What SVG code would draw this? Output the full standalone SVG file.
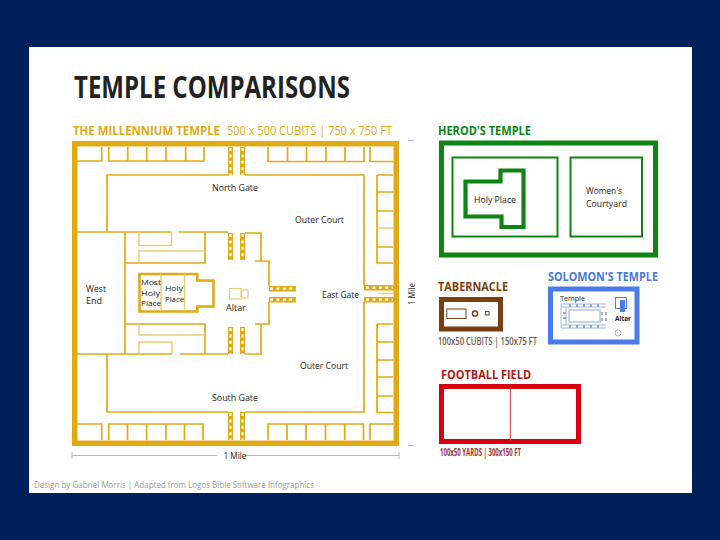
<svg xmlns="http://www.w3.org/2000/svg" width="720" height="540" viewBox="0 0 720 540">
<style>
text{font-family:"Open Sans","Liberation Sans",sans-serif;fill:#1a1a1a}
.lb{font-size:9px}
.tw{font-size:8.5px}
.sm{font-size:8px}
.h{font-weight:700;font-size:12px}
.w{fill:none;stroke:#e0aa14;stroke-width:1.7}
.p{fill:none;stroke:#e9cd78;stroke-width:1.5}
.b{fill:#e0aa14}
.d{fill:none;stroke:#fff;stroke-width:2.2;stroke-dasharray:3 3.4}
.g{fill:none;stroke:#0d8413}
.dim{fill:none;stroke:#b5b5b5;stroke-width:1}
</style>
<rect width="720" height="540" fill="#00205b"/>
<rect x="29" y="47" width="663" height="446" fill="#fff"/>
<g id="title"><text x="74" y="98" font-size="30" font-weight="700" textLength="276" lengthAdjust="spacingAndGlyphs" style="fill:#222">TEMPLE COMPARISONS</text></g>

<g id="millennium-temple">
<text class="h" x="73" y="135" textLength="147" lengthAdjust="spacingAndGlyphs" style="fill:#e0aa14">THE MILLENNIUM TEMPLE</text>
<text x="227" y="135" font-size="12" textLength="165" lengthAdjust="spacingAndGlyphs" style="fill:#e0aa14">500 x 500 CUBITS | 750 x 750 FT</text>
<rect x="74.7" y="143.7" width="321.6" height="299.6" fill="none" stroke="#e0aa14" stroke-width="5.5"/>
<path class="w" d="M77 161H101.7V147M108.7 147V161H204V147M127.7 147V161M146.7 147V161M166 147V161M185.7 147V161"/>
<path class="w" d="M268 147V161.500H364V147M287.500 147V161.500M306.500 147V161.500M326 147V161.500M345 147V161.500M370 147V161.500H393"/>
<path class="w" d="M77 424H101.700V440M108.700 440V424H203V440M127.500 424V440M146.700 424V440M166 424V440M184.500 424V440"/>
<path class="w" d="M268 440V424H363.500V440M287 424V440M306 424V440M325.500 424V440M344.700 424V440M370 440V424H393"/>
<path class="w" d="M229 175H107V232M77 232H171M179 232H228M245 175H364V285M364 302V412H245M228 412H107V354M77 354H172M180 354H228"/>
<path class="w" d="M125 232V354M125 263H205V232M125 324H205V354M245 233H261V261M255 261H269V286M269 302V324H255M261 324V354H245"/>
<path class="p" d="M139 232V245.500H171.500V232M139 263V251H205M139 354V342H172V354M139 324V335H205"/>
<path class="w" d="M377 175V263H393M377 175H393M377 192H393M377 211H393M377 247H393M377 324H393M377 324V412.500H393M377 342H393M377 360H393M377 377H393M377 396H393"/>
<path class="p" d="M377 228H393"/>
</g>

<g id="gates">
<path class="b" d="M228 147h5v28h-5zM240 147h5v28h-5zM228 233h5v27h-5zM240 233h5v27h-5zM228 327h5v27h-5zM240 327h5v27h-5zM228 412h5v28h-5zM240 412h5v28h-5zM269 286h27v5.500h-27zM269 297h27v5.500h-27zM364 285h30v5.500h-30zM364 297h30v5.500h-30z"/>
<path class="d" d="M230.500 148V175M242.500 148V175M230.500 234V260M242.500 234V260M230.500 328V354M242.500 328V354M230.500 413V440M242.500 413V440M270 288.700H296M270 299.700H296M366 287.700H393M366 299.700H393"/>
<path class="p" d="M378 293.500H393"/>
</g>

<g id="sanctuary">
<path d="M139.500 274H197.300V280.500H213.500V306.500H197.300V311.500H139.500Z" fill="#fff" stroke="#e0aa14" stroke-width="2.600"/>
<path class="p" d="M184.500 274V311M161 274V311"/>
<text class="sm" x="141" y="285" textLength="20" lengthAdjust="spacingAndGlyphs">Most</text>
<text class="sm" x="141" y="295.500" textLength="19" lengthAdjust="spacingAndGlyphs">Holy</text>
<text class="sm" x="141" y="306" textLength="20" lengthAdjust="spacingAndGlyphs">Place</text>
<text class="sm" x="165" y="291" textLength="18" lengthAdjust="spacingAndGlyphs">Holy</text>
<text class="sm" x="165" y="302" textLength="19" lengthAdjust="spacingAndGlyphs">Place</text>
</g>
<g id="altar">
<rect x="229.500" y="288.500" width="11.500" height="10.500" fill="#fff" stroke="#e9cd78" stroke-width="1.200"/>
<rect x="241.500" y="290" width="6.500" height="8" fill="#fff" stroke="#e9cd78" stroke-width="1.200"/>
<text class="lb" x="236" y="311" text-anchor="middle" textLength="20" lengthAdjust="spacingAndGlyphs">Altar</text>
</g>
<g id="labels">
<text class="lb" x="235" y="191" text-anchor="middle" textLength="46" lengthAdjust="spacingAndGlyphs">North Gate</text>
<text class="lb" x="295" y="223" textLength="49" lengthAdjust="spacingAndGlyphs">Outer Court</text>
<text class="lb" x="322" y="298" textLength="37" lengthAdjust="spacingAndGlyphs">East Gate</text>
<text class="lb" x="300" y="369" textLength="48" lengthAdjust="spacingAndGlyphs">Outer Court</text>
<text class="lb" x="212" y="401" textLength="46" lengthAdjust="spacingAndGlyphs">South Gate</text>
<text class="tw" x="86" y="291.500" textLength="20" lengthAdjust="spacingAndGlyphs">West</text>
<text class="tw" x="86" y="304" textLength="16" lengthAdjust="spacingAndGlyphs">End</text>
</g>
<g id="connectors">
<path class="dim" d="M72 452V459M72 455.500H217M245 455.500H399M399 452V459M408 140.500H414M408 445.500H414"/>
<text x="235" y="459" font-size="9" text-anchor="middle" textLength="23" lengthAdjust="spacingAndGlyphs">1 Mile</text>
<text transform="translate(414.500 305) rotate(-90)" font-size="9" textLength="22" lengthAdjust="spacingAndGlyphs">1 Mile</text>
</g>

<g id="herods-temple">
<text class="h" x="438" y="135" textLength="93" lengthAdjust="spacingAndGlyphs" style="fill:#0d8413">HEROD'S TEMPLE</text>
<rect x="441.500" y="143" width="214" height="112" class="g" stroke-width="5"/>
<rect x="452.500" y="157.500" width="105" height="79" class="g" stroke-width="2"/>
<rect x="570.500" y="157.500" width="71.500" height="79" class="g" stroke-width="2"/>
<path d="M465.500 181.500H500.500V170.500H523.500V227H501.500V216.500H465.500Z" class="g" stroke-width="4.200"/>
<text class="lb" x="474" y="203" textLength="42" lengthAdjust="spacingAndGlyphs">Holy Place</text>
<text class="tw" x="586" y="194" textLength="36" lengthAdjust="spacingAndGlyphs">Women's</text>
<text class="tw" x="586" y="206.500" textLength="41" lengthAdjust="spacingAndGlyphs">Courtyard</text>
</g>

<g id="tabernacle">
<text class="h" x="438" y="291" textLength="70" lengthAdjust="spacingAndGlyphs" style="fill:#7a3f10">TABERNACLE</text>
<rect x="441.500" y="299.500" width="59" height="29.500" fill="none" stroke="#7a3f10" stroke-width="5"/>
<rect x="446.800" y="309" width="19.200" height="9.500" fill="none" stroke="#7a3f10" stroke-width="1"/>
<circle cx="475" cy="313.500" r="2.600" fill="none" stroke="#7a3f10" stroke-width="1.500"/>
<rect x="485.500" y="311.500" width="3.500" height="3.500" fill="none" stroke="#7a3f10" stroke-width="1"/>
<text x="438" y="345" font-size="11.500" font-weight="600" textLength="99" lengthAdjust="spacingAndGlyphs" style="fill:#6d5a4a">100x50 CUBITS | 150x75 FT</text>
</g>

<g id="solomons-temple">
<text class="h" x="548" y="281" textLength="110" lengthAdjust="spacingAndGlyphs" style="fill:#4a78d8">SOLOMON'S TEMPLE</text>
<rect x="550.500" y="289" width="86.500" height="53" fill="none" stroke="#4a7be8" stroke-width="5"/>
<text x="560" y="301" font-size="8" textLength="25" lengthAdjust="spacingAndGlyphs">Temple</text>
<path d="M561 304H606M561 307H606M561 325H606M561 328H606M561 304V328M566 307V325" fill="none" stroke="#9fb8e8" stroke-width="1"/>
<rect x="569" y="310" width="31" height="12" fill="#fff" stroke="#8fa9dd" stroke-width="1"/>
<path d="M570 304V307M577 304V307M584 304V307M591 304V307M598 304V307M570 325V328M577 325V328M584 325V328M591 325V328M598 325V328M602 312V315M602 318V321M606 312V315M606 318V321M563 313H566M563 318H566" fill="none" stroke="#4a5f90" stroke-width="1"/>
<rect x="615.500" y="297.500" width="11" height="11" fill="#fff" stroke="#5a7fc8" stroke-width="1"/>
<rect x="620" y="300" width="5" height="12" fill="#4a7be8"/>
<text x="615" y="321" font-size="7.500" font-weight="700" textLength="16" lengthAdjust="spacingAndGlyphs">Altar</text>
<circle cx="618" cy="333" r="3" fill="none" stroke="#9a9a9a" stroke-width="0.800"/>
</g>

<g id="football-field">
<text class="h" x="441" y="378.500" textLength="90" lengthAdjust="spacingAndGlyphs" style="fill:#b01818">FOOTBALL FIELD</text>
<rect x="441.500" y="386.500" width="137" height="55" fill="none" stroke="#d8000f" stroke-width="5"/>
<path d="M510.300 387V441" fill="none" stroke="#d8343c" stroke-width="1"/>
<text x="440" y="456" font-size="10" font-weight="700" textLength="81" lengthAdjust="spacingAndGlyphs" style="fill:#a03030">100x50 YARDS | 300x150 FT</text>
</g>

<g id="credit"><text x="34" y="488" font-size="9" textLength="280" lengthAdjust="spacingAndGlyphs" style="fill:#9a9a9a">Design by Gabriel Morris | Adapted from Logos Bible Software Infographics</text></g>
</svg>
